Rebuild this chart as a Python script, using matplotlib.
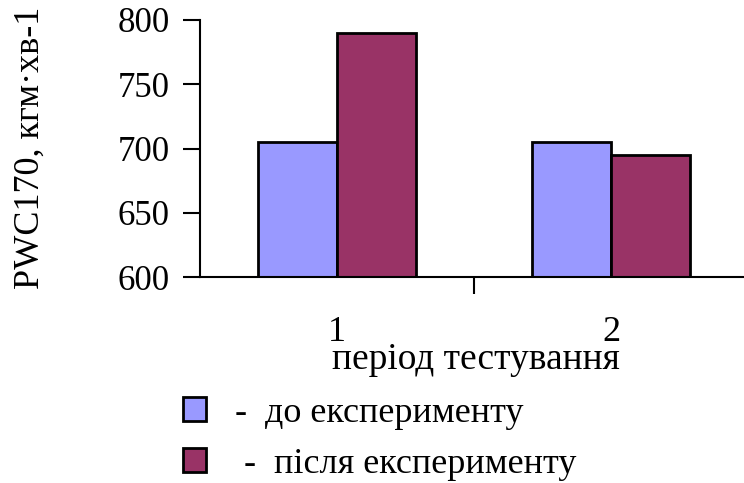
import matplotlib.pyplot as plt
import numpy as np

plt.rcParams['font.family'] = ['Liberation Serif', 'DejaVu Serif']

# PWC170 before / after the experiment for each testing period
periods = ['1', '2']
before = [705, 705]
after = [790, 695]
series_labels = ['-  до експерименту', ' -  після експерименту']

fig = plt.figure(figsize=(7.44, 4.83), dpi=100)
ax = fig.add_axes([200 / 744, 1 - 277 / 483, 548 / 744, 257 / 483])

x = np.arange(len(periods)) + 0.5
w = 0.288
b1 = ax.bar(x - w / 2, np.array(before) - 600, w, bottom=600, color='#9999FF',
            edgecolor='black', linewidth=2, label=series_labels[0])
b2 = ax.bar(x + w / 2, np.array(after) - 600, w, bottom=600, color='#993366',
            edgecolor='black', linewidth=2, label=series_labels[1])

ax.set_ylim(600, 800)
ax.set_xlim(0, 2)
ax.set_yticks([600, 650, 700, 750, 800])
ax.tick_params(axis='y', labelsize=25, length=12, width=1.5, direction='out', pad=10)

# category ticks sit between the groups, labels under the group centres
ax.set_xticks([1])
ax.set_xticklabels([''])
ax.tick_params(axis='x', length=12, width=1.5, direction='out')
for xi, lab in zip(x, periods):
    ax.text(xi, -0.215, lab, transform=ax.get_xaxis_transform(), ha='center',
            va='center', fontsize=26)

ax.spines['top'].set_visible(False)
ax.spines['right'].set_visible(False)
ax.spines['left'].set_linewidth(1.5)
ax.spines['bottom'].set_linewidth(1.5)

fig.text(476 / 744, 1 - 360 / 483, 'період тестування', ha='center', va='center', fontsize=27)
fig.text(30 / 744, 1 - 148 / 483, 'PWC170, кгм·хв-1', rotation=90, ha='center',
         va='center', fontsize=26)

fig.legend(handles=[b1, b2], labels=series_labels, loc='upper left',
           bbox_to_anchor=(183 / 744, 1 - 397 / 483), frameon=False, fontsize=26,
           borderpad=0, borderaxespad=0,
           handlelength=0.64, handleheight=0.64, handletextpad=0.8, labelspacing=0.5)

fig.savefig('out.png', dpi=100)
